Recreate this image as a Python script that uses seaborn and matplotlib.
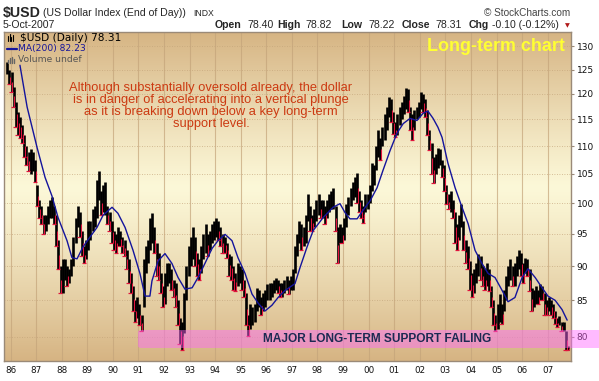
import numpy as np
import pandas as pd
import matplotlib
matplotlib.use("Agg")
import matplotlib.pyplot as plt
import seaborn as sns
from matplotlib.patches import FancyBboxPatch
from matplotlib.lines import Line2D
from matplotlib.ticker import FixedLocator, NullLocator, FixedFormatter

sns.set_style("white")
plt.rcParams["font.family"] = ["Liberation Sans", "DejaVu Sans"]

# ---------------- data (monthly ranges) ----------------
start_month = "1985-11-01"
month_high = [
    126.5, 125.0,
    124.5, 121.5, 118.5, 116.5, 115.5, 114.0, 112.0, 110.0, 109.0, 109.5, 109.0, 107.5,
    103.0, 100.5, 99.5, 98.0, 98.0, 99.5, 100.5, 101.0, 99.5, 98.0, 94.0, 90.0,
    91.0, 91.0, 90.0, 89.5, 91.0, 94.5, 97.5, 99.5, 98.5, 95.5, 93.0, 94.0,
    97.0, 97.0, 99.0, 99.5, 104.0, 105.5, 102.0, 103.0, 103.5, 99.5, 98.5, 97.0,
    95.5, 95.0, 96.0, 95.5, 94.5, 94.0, 92.5, 91.0, 89.0, 87.0, 85.0, 85.5,
    84.5, 83.0, 91.0, 93.0, 94.0, 97.5, 98.3, 96.0, 93.5, 92.0, 89.0, 87.0,
    89.0, 90.5, 90.5, 89.5, 88.0, 87.5, 85.0, 82.5, 82.0, 86.0, 90.0, 93.0,
    94.5, 96.0, 94.5, 92.0, 91.0, 93.0, 95.0, 96.5, 95.0, 95.5, 96.5, 97.0,
    97.6, 97.0, 96.0, 95.0, 94.5, 93.5, 91.9, 91.5, 90.0, 89.0, 90.4, 90.0,
    89.5, 88.0, 86.0, 83.0, 84.5, 84.0, 84.5, 86.8, 86.5, 85.5, 86.0, 86.5,
    87.4, 87.5, 87.5, 88.0, 88.3, 88.0, 87.5, 87.5, 88.0, 88.5, 88.0, 88.5,
    89.5, 93.0, 95.0, 97.0, 96.5, 96.0, 98.0, 101.6, 99.5, 98.0, 99.0, 100.5,
    101.6, 100.5, 100.5, 99.5, 100.5, 101.5, 102.0, 102.6, 99.5, 96.0, 96.5, 96.0,
    97.5, 99.9, 101.0, 102.5, 103.5, 104.5, 105.1, 102.0, 100.5, 99.5, 101.6, 101.6,
    103.0, 106.9, 106.5, 110.0, 112.9, 111.5, 113.5, 116.0, 117.4, 119.4, 119.0, 116.5,
    114.5, 116.0, 117.4, 118.5, 119.5, 121.2, 121.0, 117.5, 116.0, 116.8, 117.5, 118.5,
    120.4, 120.0, 119.0, 116.8, 113.0, 110.5, 108.0, 108.5, 109.7, 109.5, 107.5, 106.5,
    103.0, 101.5, 102.1, 100.5, 98.5, 96.5, 98.0, 99.9, 97.0, 94.0, 93.0, 90.8,
    89.0, 89.5, 90.5, 91.9, 91.5, 90.0, 89.5, 90.4, 89.5, 87.0, 85.0, 83.0,
    84.5, 85.9, 84.5, 86.5, 88.5, 90.0, 91.0, 90.0, 90.5, 91.5, 92.4, 92.0,
    90.5, 91.3, 91.0, 89.5, 86.8, 86.5, 87.0, 86.5, 87.4, 87.0, 86.0, 85.0,
    85.4, 85.0, 84.5, 83.5, 82.5, 82.8, 82.0, 82.0, 80.8, 78.8,
]
month_low = [
    124.0, 122.0,
    120.5, 117.5, 113.5, 112.0, 111.5, 110.5, 108.0, 106.5, 105.5, 105.0, 105.5, 103.5,
    99.5, 97.5, 96.5, 95.0, 95.5, 96.5, 97.5, 97.5, 96.5, 93.0, 89.5, 86.0,
    86.0, 88.0, 87.0, 87.5, 88.5, 90.0, 93.5, 96.0, 94.5, 91.5, 90.5, 91.0,
    92.5, 94.0, 95.5, 96.0, 97.5, 100.5, 98.0, 98.5, 98.0, 96.5, 95.5, 93.5,
    92.5, 92.0, 93.0, 93.0, 92.0, 91.5, 89.5, 87.5, 86.0, 83.5, 82.0, 82.5,
    81.5, 80.8, 84.0, 89.0, 90.5, 92.5, 93.5, 92.0, 88.5, 88.0, 86.0, 84.0,
    84.5, 87.0, 87.5, 86.5, 85.5, 84.0, 81.5, 79.0, 78.2, 80.5, 85.0, 88.5,
    90.0, 91.0, 90.0, 88.5, 88.0, 89.0, 91.0, 92.0, 91.5, 92.5, 93.5, 94.0,
    94.5, 94.0, 93.0, 92.0, 92.0, 91.3, 88.5, 88.0, 86.5, 86.4, 87.0, 87.5,
    86.5, 85.5, 81.5, 80.1, 81.0, 81.5, 82.0, 83.5, 84.0, 83.0, 83.5, 84.0,
    85.0, 85.0, 85.5, 86.0, 86.5, 86.0, 85.4, 85.5, 86.0, 86.5, 85.9, 86.5,
    86.5, 89.0, 91.5, 93.5, 92.5, 93.0, 93.5, 97.0, 95.5, 95.5, 96.0, 97.0,
    98.0, 97.5, 97.5, 96.6, 97.6, 98.5, 99.0, 99.0, 95.5, 90.5, 93.5, 93.5,
    94.0, 96.0, 98.0, 99.5, 100.5, 101.0, 100.0, 98.5, 97.5, 96.8, 98.5, 99.0,
    100.0, 102.0, 103.0, 105.6, 108.0, 107.5, 110.0, 111.1, 113.0, 115.5, 114.5, 112.3,
    111.6, 112.0, 114.0, 115.0, 116.0, 117.0, 116.5, 113.0, 111.1, 113.0, 115.0, 115.5,
    117.0, 116.5, 115.5, 112.0, 109.2, 105.0, 103.4, 105.0, 106.0, 106.5, 104.5, 102.0,
    99.9, 99.0, 98.5, 97.6, 93.5, 92.4, 94.0, 96.0, 92.5, 90.4, 89.5, 86.5,
    85.4, 86.0, 87.5, 88.5, 88.0, 87.0, 86.5, 87.0, 86.4, 84.0, 81.5, 80.8,
    81.0, 82.0, 81.7, 83.5, 85.0, 87.0, 88.0, 87.0, 87.0, 88.5, 89.5, 88.5,
    87.5, 89.0, 88.5, 86.4, 83.5, 84.0, 84.5, 84.5, 85.0, 85.0, 83.0, 83.0,
    83.5, 83.0, 82.5, 81.7, 81.3, 81.5, 80.8, 80.8, 78.2, 78.2,
]
ma_years = [1986.37, 1986.65, 1987.04, 1987.35, 1987.62, 1987.86, 1988.21, 1988.40,
            1988.60, 1988.83, 1989.11, 1989.38, 1989.62, 1989.97, 1990.20, 1990.48,
            1990.79, 1991.06, 1991.26, 1991.45, 1991.53, 1991.77, 1992.04, 1992.31,
            1992.55, 1992.82, 1993.10, 1993.33, 1993.60, 1993.88, 1994.11, 1994.39,
            1994.66, 1994.89, 1995.17, 1995.44, 1995.68, 1995.95, 1996.22, 1996.46,
            1996.73, 1997.12, 1997.32, 1997.59, 1997.83, 1998.22, 1998.61, 1998.88,
            1999.08, 1999.27, 1999.55, 1999.78, 2000.06, 2000.33, 2000.56, 2000.84,
            2001.11, 2001.35, 2001.62, 2001.89, 2002.13, 2002.32, 2002.52, 2002.71,
            2002.87, 2003.10, 2003.38, 2003.65, 2003.89, 2004.16, 2004.43, 2004.67,
            2004.94, 2005.22, 2005.45, 2005.72, 2006.00, 2006.23, 2006.51, 2006.78,
            2007.01, 2007.29, 2007.56, 2007.76]
ma_values = [125.9, 117.4, 109.7, 104.4, 101.2, 97.6, 93.9, 91.3,
             91.1, 92.9, 94.5, 96.0, 98.0, 99.3, 98.3, 96.0,
             92.4, 88.9, 85.6, 85.6, 87.8, 90.8, 91.9, 90.4,
             88.3, 86.6, 86.8, 88.3, 90.4, 92.7, 93.9, 94.9,
             93.9, 91.3, 88.9, 85.9, 84.6, 83.5, 84.3, 85.4,
             86.4, 87.4, 89.8, 92.9, 95.5, 97.6, 99.3, 99.9,
             98.4, 97.4, 97.4, 98.8, 100.4, 102.6, 105.6, 109.2,
             112.4, 114.2, 115.2, 114.8, 116.2, 116.6, 115.2, 113.5,
             111.6, 106.9, 102.6, 99.3, 96.6, 92.4, 90.4, 88.9,
             88.3, 86.4, 84.8, 85.4, 88.3, 89.6, 88.3, 86.8,
             85.6, 85.0, 83.7, 82.23]
y_ticks = [80, 85, 90, 95, 100, 105, 110, 115, 120, 125, 130]
x_years = list(range(1986, 2008))
x_labels = ["86", "87", "88", "89", "90", "91", "92", "93", "94", "95", "96",
            "97", "98", "99", "00", "01", "02", "03", "04", "05", "06", "07"]

# ---------------- figure ----------------
W, H = 599, 381
fig = plt.figure(figsize=(W / 100, H / 100), dpi=100)
fig.patch.set_facecolor("white")


def fx(px):
    return px / W


def fy(py):
    return 1 - py / H


L, R, T, B = 4, 571, 32, 361
pos = [fx(L), fy(B), fx(R) - fx(L), fy(T) - fy(B)]

# gradient background
bg = fig.add_axes(pos, zorder=0)
n = 400
tt = np.linspace(0, 1, n)
peak = 0.474
d = np.where(tt < peak, (peak - tt) / peak, (tt - peak) / (1 - peak))
w = 1 - d ** 1.15
tan = np.array([214, 180, 131]) / 255
cream = np.array([252, 248, 216]) / 255
grad = tan[None, :] * (1 - w[:, None]) + cream[None, :] * w[:, None]
bg.imshow(grad[:, None, :], aspect="auto", extent=[0, 1, 0, 1])
bg.axis("off")

ax = fig.add_axes(pos, zorder=1)
ax.set_facecolor("none")

dates = pd.date_range(start_month, periods=len(month_high), freq="MS")
t_dec = np.array(dates.year + (dates.month - 1 + 0.5) / 12.0)
hi = np.array(month_high)
lo = np.array(month_low)
mid = (hi + lo) / 2
down = np.r_[False, mid[1:] < mid[:-1]]

ax.vlines(t_dec, lo, hi, colors="black", lw=1.9, zorder=3)
ax.vlines(t_dec[down] + 0.03, lo[down], mid[down], colors="#e0143c", lw=0.8, zorder=3.5)
ax.scatter(t_dec[down] - 0.02, lo[down], marker="_", s=6, color="#e0143c", lw=0.9, zorder=3.6)

sns.lineplot(x=ma_years, y=ma_values, ax=ax, color="#14149c", lw=1.0, zorder=4)

ax.set_yscale("log")
ax.set_ylim(76.8, 133.1)
ax.set_xlim(1986 - 6.5 / 25.58, 2007 + 23.3 / 25.58)

ax.yaxis.tick_right()
ax.yaxis.set_major_locator(FixedLocator(y_ticks))
ax.yaxis.set_major_formatter(FixedFormatter([str(v) for v in y_ticks]))
ax.yaxis.set_minor_locator(NullLocator())
ax.xaxis.set_major_locator(FixedLocator(x_years))
ax.xaxis.set_major_formatter(FixedFormatter(x_labels))
ax.xaxis.set_minor_locator(NullLocator())
ax.tick_params(axis="y", which="major", length=2, pad=2, labelsize=6.5,
               color="#9a8a78", labelcolor="#111111")
ax.tick_params(axis="x", which="major", length=0, pad=3.5, labelsize=6.3,
               labelcolor="#111111")
for lbl in ax.get_yticklabels() + ax.get_xticklabels():
    lbl.set_fontfamily("DejaVu Sans")

ax.grid(axis="x", color="#c4a47a", lw=0.8, alpha=0.7, zorder=1)
ax.grid(axis="y", color="#c4a47a", lw=0.6, ls=(0, (1, 2)), alpha=0.9, zorder=1)
ax.set_axisbelow(True)
for s in ax.spines.values():
    s.set_color("#9a8a78")
    s.set_linewidth(1.0)
ax.set_xlabel("")
ax.set_ylabel("")

# ---------------- header texts ----------------
fig.text(fx(3), fy(13), "$USD", fontsize=10.2, fontweight="bold", va="center", ha="left")
fig.text(fx(43), fy(13), "(US Dollar Index (End of Day))", fontsize=7.6, va="center", ha="left")
fig.text(fx(193), fy(13), "INDX", fontsize=6.2, va="center", ha="left")
fig.text(fx(3), fy(25), "5-Oct-2007", fontsize=7.6, va="center", ha="left")
fig.text(fx(570), fy(13), "\u00a9 StockCharts.com", fontsize=7.2, va="center", ha="right",
         color="#444444")

hdr = [(215, "Open", True), (247, "78.40", False), (277, "High", True), (305, "78.82", False),
       (341, "Low", True), (368, "78.22", False), (402, "Close", True), (435, "78.31", False),
       (469, "Chg", True), (492, "-0.10 (-0.12%)", False)]
for xp, s, b in hdr:
    fig.text(fx(xp), fy(25.5), s, fontsize=7.6, fontweight="bold" if b else "normal",
             va="center", ha="left")
fig.text(fx(567), fy(25.5), "\u25bc", fontsize=4.5, color="#b01818", va="center",
         ha="center", family="DejaVu Sans")

# legend inside plot
for xp, h in [(8, 5), (9.5, 7), (11, 4), (12.5, 6)]:
    fig.add_artist(Line2D([fx(xp), fx(xp)], [fy(41), fy(41 - h)], color="black", lw=0.8))
fig.text(fx(20), fy(38), "$USD (Daily) 78.31", fontsize=7.6, family="DejaVu Sans",
         va="center", ha="left", color="black")
fig.add_artist(Line2D([fx(7), fx(17)], [fy(49), fy(49)], color="#14149c", lw=1.6))
fig.text(fx(18), fy(49), "MA(200) 82.23", fontsize=6.6, family="DejaVu Sans",
         va="center", ha="left", color="#14149c")
for xp, h in [(8, 3), (10, 5), (12, 6), (14, 4)]:
    fig.add_artist(Line2D([fx(xp), fx(xp)], [fy(63), fy(63 - h)], color="#666666", lw=1.0))
fig.text(fx(18), fy(60), "Volume undef", fontsize=6.6, family="DejaVu Sans",
         va="center", ha="left", color="#555555")

fig.text(fx(565), fy(46.5), "Long-term chart", fontsize=12.9, fontweight="bold",
         color="#ffff33", va="center", ha="right")

note = ["Although substantially oversold already, the dollar",
        "is in danger of accelerating into a vertical plunge",
        "as it is breaking down below a key long-term",
        "support level."]
for i, line in enumerate(note):
    fig.text(fx(211), fy(88.3 + 12 * i), line, fontsize=9.3, color="#cc3a12",
             va="center", ha="center")

band = FancyBboxPatch((fx(138), fy(348)), 1.05 - fx(138), fy(330) - fy(348),
                      boxstyle="round,pad=0,rounding_size=0.006",
                      transform=fig.transFigure, facecolor="#ff66ff", alpha=0.45,
                      edgecolor="none", zorder=5)
fig.add_artist(band)
fig.text(fx(377), fy(339), "MAJOR LONG-TERM SUPPORT FAILING", fontsize=8.6,
         fontweight="bold", color="#1c2a52", va="center", ha="center", zorder=6)

fig.savefig("out.png", dpi=100)
